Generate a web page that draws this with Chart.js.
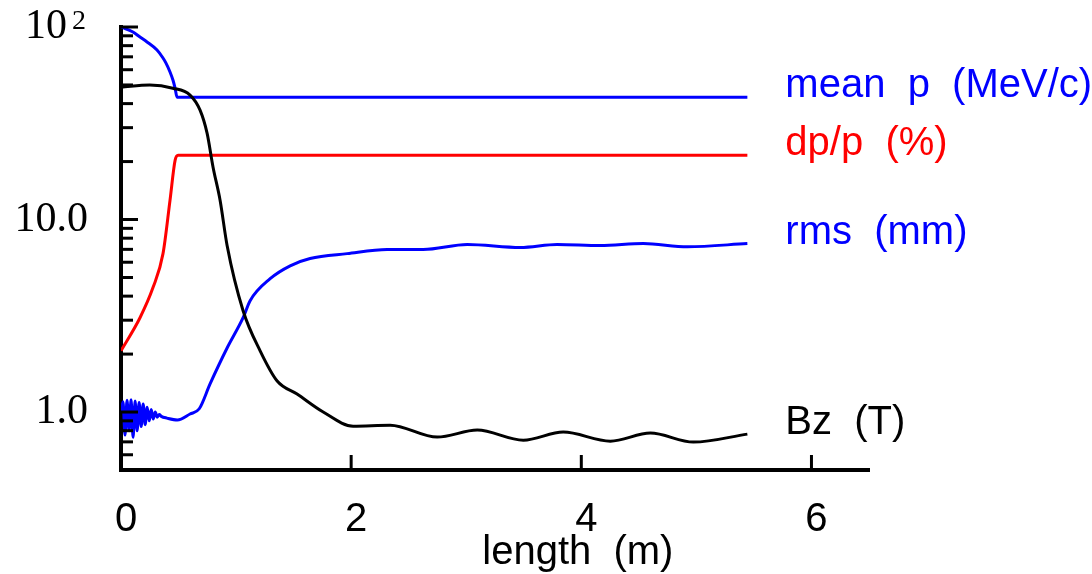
<!DOCTYPE html>
<html><head><meta charset="utf-8">
<script src="https://cdn.jsdelivr.net/npm/chart.js@4"></script>
<style>html,body{margin:0;padding:0;background:#fff}#wrap{width:1092px;height:574px}</style>
</head><body><div id="wrap"><canvas id="c" width="1092" height="574"></canvas></div>
<script>
// ---- data (x in m) ----
const bzX = [0,0.25,0.45,0.6,0.687,0.748,0.8,0.861,0.922,1.061,1.209,1.357,1.53,1.757,2.017,2.339,2.748,3.096,3.496,3.843,4.252,4.6,4.974,5.443];
const bzY = [48.7,49.9,48.1,44.3,37.0,28.1,18.7,12.6,7.33,3.36,2.08,1.45,1.24,1.0,0.845,0.855,0.741,0.806,0.714,0.787,0.706,0.778,0.698,0.768];

const meanPX = [0,0.104,0.165,0.226,0.313,0.365,0.391,0.426,0.452,0.47,0.487,5.443];
const meanPY = [100,94.2,88.7,83.6,75.9,69,64.9,58.4,52.9,48.1,43.2,43.2];

const dppX = [0,0.165,0.278,0.365,0.426,0.47,0.496,5.443];
const dppY = [2.08,3.09,4.43,6.65,12.6,20.3,21.6,21.6];

const rmsX = [0,0.0175,0.035,0.0525,0.07,0.0875,0.105,0.1225,0.14,0.1575,0.175,0.1925,0.21,0.2275,0.245,0.2625,0.28,0.2975,0.315,0.3325,0.35,0.40,0.49,0.60,0.68,0.774,0.922,1.061,1.122,1.296,1.47,1.643,1.965,2.313,2.626,3.009,3.47,3.79,4.165,4.539,4.922,5.443];
const rmsY = [1.0,1.13,0.76,1.15,0.80,1.16,0.74,1.14,0.80,1.12,0.84,1.10,0.86,1.06,0.90,1.03,0.92,1.0,0.94,0.97,0.95,0.93,0.91,0.977,1.04,1.40,2.15,3.09,3.79,4.93,5.75,6.27,6.65,6.98,6.98,7.41,7.15,7.41,7.32,7.50,7.22,7.50];

const seriesLabels = ['Bz  (T)','mean  p  (MeV/c)','dp/p  (%)','rms  (mm)'];

const xTickValues = [0,2,4,6];
const yTickValues = [0.5,0.6,0.7,0.8,0.9,1,2,3,4,5,6,7,8,9,10,20,30,40,50,60,70,80,90,100];
const yLabelValues = [1,10,100];
const yLabelTexts = ['1.0','10.0','10  '];
const yLabelSups = ['','','2'];
const xTitle = 'length  (m)';
const xTitleAt = 3.97;

const pts = (xs, ys) => xs.map((v,i)=>({x:v, y:ys[i]}));

const decor = {
  id:'decor',
  afterDatasetsDraw(chart){
    const {ctx, chartArea:a, scales:{x,y}} = chart;
    ctx.save();
    ctx.strokeStyle='#000'; ctx.lineWidth=3;
    yTickValues.forEach(v=>{
      const py = y.getPixelForValue(v);
      const len = yLabelValues.includes(v) ? 17 : 12;
      ctx.beginPath(); ctx.moveTo(a.left, py); ctx.lineTo(a.left+len, py); ctx.stroke();
    });
    xTickValues.forEach(v=>{
      if (v===0) return;
      const px = x.getPixelForValue(v);
      ctx.beginPath(); ctx.moveTo(px, a.bottom); ctx.lineTo(px, a.bottom-15); ctx.stroke();
    });
    // superscripts on y tick labels
    ctx.fillStyle='#000'; ctx.font='28px "Liberation Serif"';
    ctx.textAlign='right'; ctx.textBaseline='alphabetic';
    yLabelValues.forEach((v,k)=>{
      if (!yLabelSups[k]) return;
      ctx.fillText(yLabelSups[k], a.left-35, y.getPixelForValue(v)+2);
    });
    ctx.font = '40px "Liberation Sans"';
    ctx.textBaseline='alphabetic'; ctx.textAlign='left';
    chart.data.datasets.forEach((ds,i)=>{
      const meta = chart.getDatasetMeta(i);
      const pt = meta.data[meta.data.length-1];
      ctx.fillStyle = ds.borderColor;
      ctx.fillText(ds.label, pt.x+38, pt.y);
    });
    ctx.fillStyle='#000'; ctx.textAlign='center';
    ctx.fillText(xTitle, x.getPixelForValue(xTitleAt), chart.height-10);
    ctx.restore();
  }
};

new Chart(document.getElementById('c'), {
  type:'line',
  data:{datasets:[
    {label:seriesLabels[0], data:pts(bzX,bzY), borderColor:'#000000', borderWidth:3, pointRadius:0, cubicInterpolationMode:'monotone', fill:false},
    {label:seriesLabels[1], data:pts(meanPX,meanPY), borderColor:'#0000ff', borderWidth:3, pointRadius:0, cubicInterpolationMode:'monotone', fill:false},
    {label:seriesLabels[2], data:pts(dppX,dppY), borderColor:'#ff0000', borderWidth:3, pointRadius:0, cubicInterpolationMode:'monotone', fill:false},
    {label:seriesLabels[3], data:pts(rmsX,rmsY), borderColor:'#0000ff', borderWidth:3, pointRadius:0, cubicInterpolationMode:'monotone', fill:false}
  ]},
  options:{
    responsive:false, animation:false, devicePixelRatio:1,
    layout:{padding:{top:27,right:223,left:0,bottom:0}},
    plugins:{legend:{display:false}, tooltip:{enabled:false}},
    scales:{
      x:{type:'linear', min:0, max:6.5,
        afterBuildTicks:s=>{s.ticks = xTickValues.map(v=>({value:v}));},
        afterFit:s=>{s.height=104; s.paddingLeft=0; s.paddingRight=0;},
        grid:{display:false, drawTicks:false},
        border:{display:true, width:4, color:'#000'},
        ticks:{autoSkip:false, padding:26, labelOffset:5, color:'#000', font:{family:'"Liberation Sans"', size:40}, maxRotation:0,
          callback:v=>String(v)}
      },
      y:{type:'logarithmic', min:0.5, max:100,
        afterBuildTicks:s=>{s.ticks = yTickValues.map(v=>({value:v}));},
        afterFit:s=>{s.width=121; s.paddingTop=0; s.paddingBottom=0;},
        grid:{display:false, drawTicks:false},
        border:{display:true, width:4, color:'#000'},
        ticks:{autoSkip:false, padding:33, color:'#000', font:{family:'"Liberation Serif"', size:42},
          callback:v=>{const k=yLabelValues.indexOf(v); return k>=0?yLabelTexts[k]:'';}}
      }
    }
  },
  plugins:[decor]
});
</script></body></html>
